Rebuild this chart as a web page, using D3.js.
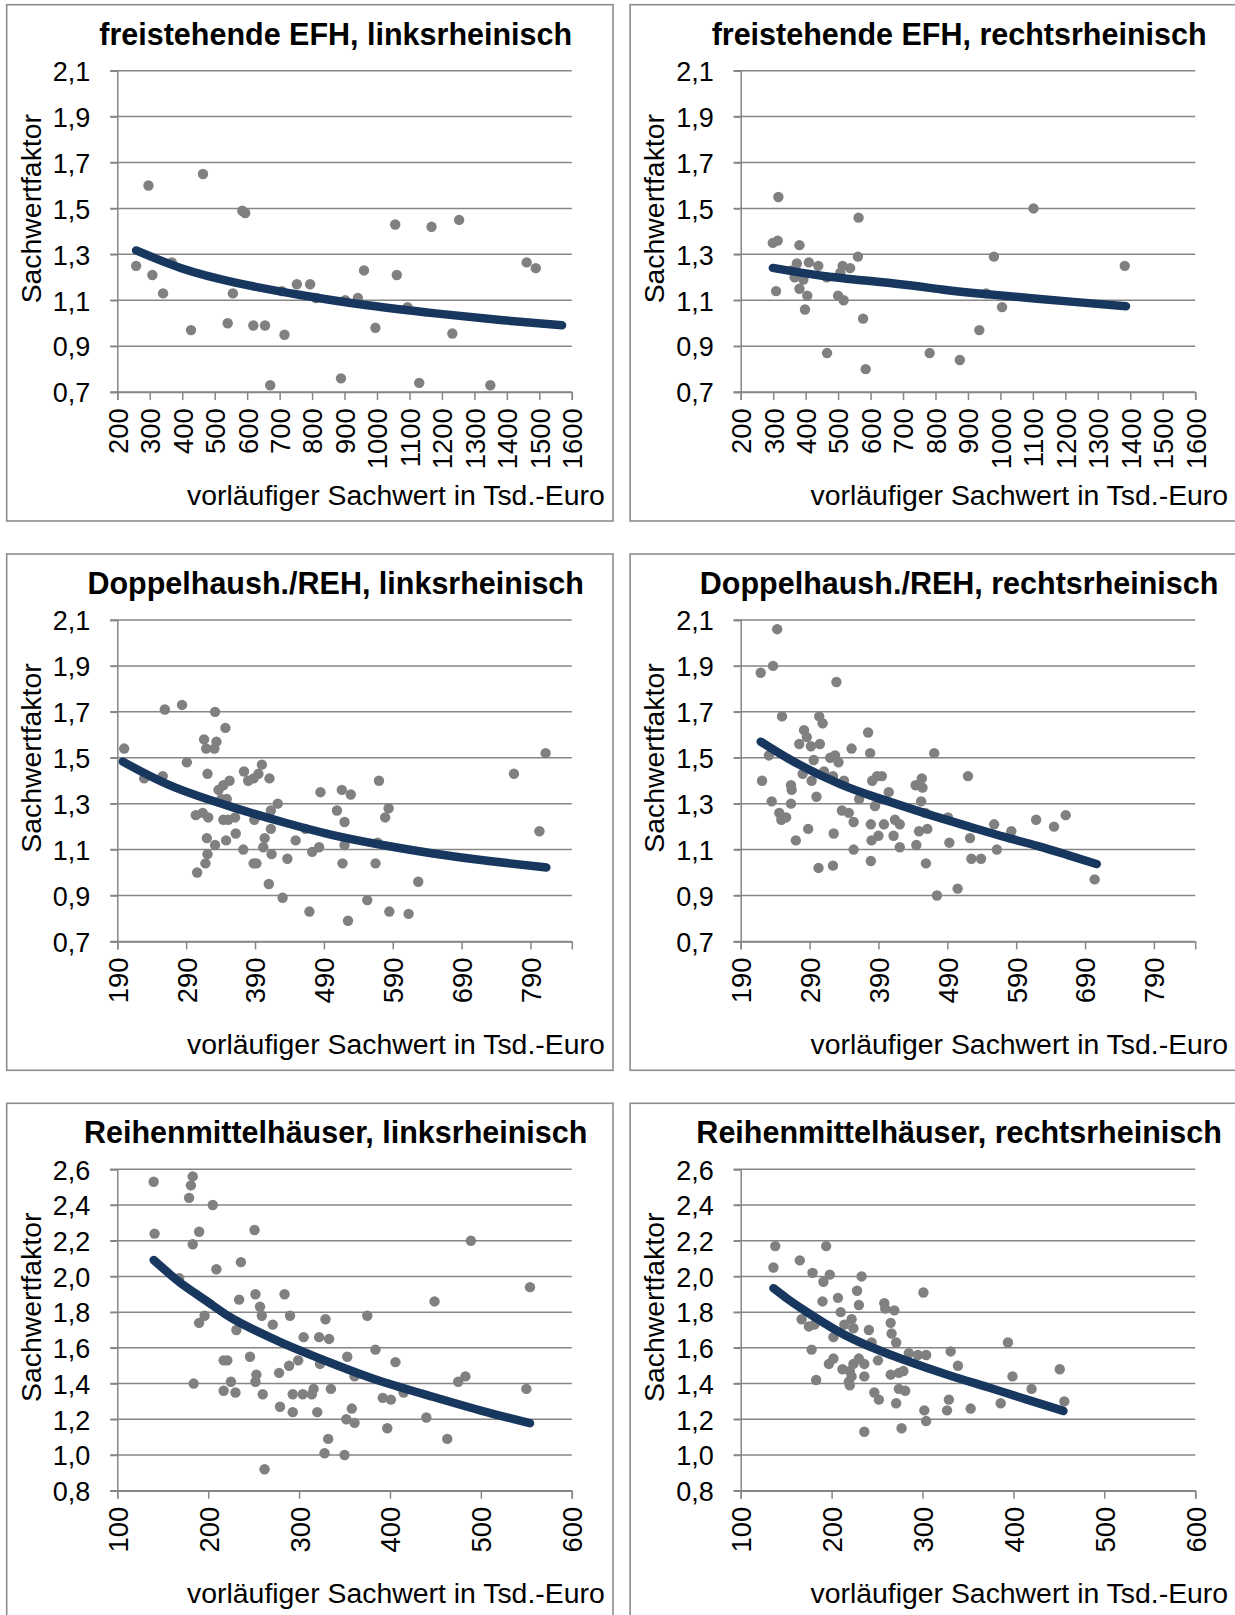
<!DOCTYPE html>
<html><head><meta charset="utf-8">
<script src="https://cdn.jsdelivr.net/npm/d3@7/dist/d3.min.js"></script>
<style>
body{margin:0;background:#fff}
svg{display:block}
text{font-family:"Liberation Sans",Arial,Helvetica,sans-serif;fill:#000}
</style></head>
<body><svg id="chart" width="1235" height="1615"></svg>
<script>
// ---------- data ----------
const titles = [
  "freistehende EFH, linksrheinisch", "freistehende EFH, rechtsrheinisch",
  "Doppelhaush./REH, linksrheinisch", "Doppelhaush./REH, rechtsrheinisch",
  "Reihenmittelhäuser, linksrheinisch", "Reihenmittelhäuser, rechtsrheinisch"
];
const yAxisTitle = "Sachwertfaktor";
const xAxisTitle = "vorläufiger Sachwert in Tsd.-Euro";

const xTicksEFH = [200,300,400,500,600,700,800,900,1000,1100,1200,1300,1400,1500,1600];
const xTicksDHH = [190,290,390,490,590,690,790];
const xTicksRMH = [100,200,300,400,500,600];
const yTicksA = [0.7,0.9,1.1,1.3,1.5,1.7,1.9,2.1];
const yTicksB = [0.8,1.0,1.2,1.4,1.6,1.8,2.0,2.2,2.4,2.6];

// freistehende EFH, linksrheinisch
const efhLinksX = [258,296,308,341,368,427,464,540,556,585,594,619,655,671,707,715,753,794,812,889,902,941,960,995,1056,1061,1094,1130,1168,1232,1253,1349,1461,1489];
const efhLinksY = [1.25,1.60,1.21,1.13,1.265,0.97,1.65,1.00,1.13,1.49,1.48,0.99,0.99,0.73,1.14,0.95,1.17,1.17,1.11,0.76,1.10,1.11,1.23,0.98,1.43,1.21,1.07,0.74,1.42,0.955,1.45,0.73,1.265,1.24];
const efhLinksTrendX = [258,400,560,760,970,1180,1380,1570];
const efhLinksTrendY = [1.317,1.238,1.178,1.124,1.078,1.043,1.014,0.991];

// freistehende EFH, rechtsrheinisch
const efhRechtsX = [299,314,316,309,373,381,366,381,393,405,398,410,439,465,466,500,514,517,507,537,561,563,577,585,782,875,935,956,980,1005,1102,1383,357];
const efhRechtsY = [1.35,1.36,1.55,1.14,1.26,1.34,1.20,1.15,1.19,1.12,1.06,1.265,1.25,1.20,0.87,1.12,1.25,1.10,1.22,1.24,1.29,1.46,1.02,0.80,0.87,0.84,0.97,1.13,1.29,1.07,1.50,1.25,1.23];
const efhRechtsTrendX = [299,460,660,820,969,1225,1387];
const efhRechtsTrendY = [1.241,1.205,1.175,1.147,1.125,1.093,1.074];

// Doppelhaush./REH, linksrheinisch
const dhhLinksX = [200,229,256,259,284,291,304,306,314,316,319,321,322,320,321,318,331,334,332,332,337,341,344,349,353,344,351,361,347,348,362,373,374,380,388,395,400,411,388,392,389,404,402,414,413,413,423,410,430,437,449,463,469,473,483,485,509,516,520,529,520,517,525,553,565,568,570,579,584,585,613,627,766,803,812];
const dhhLinksY = [1.54,1.41,1.42,1.71,1.73,1.48,1.25,1.00,1.26,1.58,1.54,1.43,1.24,1.15,1.08,1.04,1.54,1.57,1.70,1.12,1.36,1.32,1.38,1.32,1.40,1.23,1.23,1.24,1.63,1.14,1.17,1.10,1.44,1.40,1.41,1.43,1.47,1.41,1.04,1.04,1.23,1.15,1.11,1.08,1.19,1.27,1.30,0.95,0.89,1.06,1.14,1.19,0.83,1.09,1.11,1.35,1.27,1.36,1.22,1.34,1.12,1.04,0.79,0.88,1.04,1.13,1.40,1.24,1.28,0.83,0.82,0.96,1.43,1.18,1.52];
const dhhLinksTrendX = [198,270,358,430,503,575,649,730,813];
const dhhLinksTrendY = [1.483,1.375,1.284,1.220,1.163,1.120,1.083,1.050,1.022];

// Doppelhaush./REH, rechtsrheinisch
const dhhRechtsX = [219,237,243,250,329,231,221,235,246,249,256,263,264,263,270,275,282,280,286,292,293,288,296,300,304,305,309,303,311,320,327,332,324,325,324,337,340,347,351,354,354,362,375,378,381,388,395,385,379,380,379,390,398,405,412,414,421,421,445,444,453,454,452,458,449,461,459,471,475,491,493,505,520,523,525,539,558,562,583,619,645,662,704];
const dhhRechtsY = [1.87,1.90,2.06,1.68,1.83,1.51,1.40,1.31,1.26,1.23,1.24,1.38,1.36,1.30,1.14,1.56,1.62,1.43,1.59,1.55,1.40,1.19,1.49,1.33,1.68,1.56,1.65,1.02,1.44,1.50,1.51,1.48,1.42,1.17,1.03,1.27,1.40,1.26,1.54,1.22,1.10,1.32,1.61,1.52,1.40,1.42,1.42,1.29,1.21,1.14,1.05,1.16,1.21,1.35,1.16,1.23,1.21,1.11,1.12,1.38,1.41,1.37,1.31,1.26,1.18,1.19,1.04,1.52,0.90,1.24,1.13,0.93,1.42,1.15,1.06,1.06,1.21,1.10,1.18,1.23,1.20,1.25,0.97];
const dhhRechtsTrendX = [219,270,332,380,428,477,525,573,622,665,707];
const dhhRechtsTrendY = [1.570,1.478,1.388,1.334,1.287,1.240,1.197,1.155,1.115,1.076,1.037];

// Reihenmittelhäuser, linksrheinisch
const rmhLinksX = [140,141,183,181,179,205,190,183,251,236,209,168,196,190,184,231,234,252,257,259,271,284,290,305,322,333,329,375,384,406,217,221,246,253,252,225,217,230,260,278,289,299,279,293,293,304,314,316,320,323,335,353,361,358,352,361,332,328,350,392,401,397,415,440,449,463,475,483,489,554,550,262];
const rmhLinksY = [2.53,2.24,2.56,2.51,2.44,2.40,2.25,2.18,2.26,2.08,2.04,1.99,1.78,1.74,1.40,1.70,1.87,1.90,1.83,1.78,1.73,1.90,1.78,1.66,1.66,1.65,1.76,1.78,1.59,1.52,1.53,1.53,1.55,1.45,1.41,1.41,1.36,1.35,1.34,1.46,1.50,1.53,1.27,1.24,1.34,1.34,1.34,1.37,1.24,1.51,1.37,1.55,1.44,1.26,1.20,1.18,1.09,1.01,1.00,1.32,1.31,1.15,1.35,1.21,1.86,1.09,1.41,1.44,2.20,1.94,1.37,0.92];
const rmhLinksTrendX = [140,160,180,205,228,280,338,390,448,500,554];
const rmhLinksTrendY = [2.092,2.003,1.925,1.838,1.760,1.631,1.510,1.413,1.325,1.249,1.178];

// Reihenmittelhäuser, rechtsrheinisch
const rmhRechtsX = [138,136,165,194,179,191,198,233,228,230,207,190,210,167,175,181,214,222,224,202,178,202,197,183,212,220,224,230,236,222,219,220,236,241,251,244,236,247,252,258,259,269,265,266,271,265,274,279,285,295,304,301,271,274,281,277,302,304,327,329,331,339,353,386,394,399,420,451,456];
const rmhRechtsY = [2.17,2.05,2.09,2.17,2.02,1.97,2.01,2.00,1.92,1.84,1.88,1.86,1.80,1.76,1.72,1.73,1.73,1.76,1.71,1.66,1.59,1.54,1.51,1.42,1.48,1.47,1.51,1.54,1.51,1.44,1.41,1.39,1.44,1.70,1.53,1.63,1.13,1.35,1.31,1.85,1.82,1.81,1.74,1.68,1.63,1.45,1.46,1.47,1.57,1.56,1.56,1.91,1.29,1.37,1.36,1.15,1.25,1.19,1.25,1.31,1.58,1.50,1.26,1.29,1.63,1.44,1.37,1.48,1.30];
const rmhRechtsTrendX = [136,150,170,208,240,281,330,373,415,455];
const rmhRechtsTrendY = [1.934,1.880,1.810,1.690,1.612,1.530,1.445,1.378,1.310,1.247];

// ---------- panel table (built from the arrays above) ----------
const panels = [
  {title: titles[0], xs: efhLinksX,  ys: efhLinksY,  tx: efhLinksTrendX,  ty: efhLinksTrendY,  xDom:[200,1600], xTicks:xTicksEFH, yDom:[0.7,2.1], yTicks:yTicksA},
  {title: titles[1], xs: efhRechtsX, ys: efhRechtsY, tx: efhRechtsTrendX, ty: efhRechtsTrendY, xDom:[200,1600], xTicks:xTicksEFH, yDom:[0.7,2.1], yTicks:yTicksA},
  {title: titles[2], xs: dhhLinksX,  ys: dhhLinksY,  tx: dhhLinksTrendX,  ty: dhhLinksTrendY,  xDom:[190,850],  xTicks:xTicksDHH, yDom:[0.7,2.1], yTicks:yTicksA},
  {title: titles[3], xs: dhhRechtsX, ys: dhhRechtsY, tx: dhhRechtsTrendX, ty: dhhRechtsTrendY, xDom:[190,850],  xTicks:xTicksDHH, yDom:[0.7,2.1], yTicks:yTicksA},
  {title: titles[4], xs: rmhLinksX,  ys: rmhLinksY,  tx: rmhLinksTrendX,  ty: rmhLinksTrendY,  xDom:[100,600],  xTicks:xTicksRMH, yDom:[0.8,2.6], yTicks:yTicksB},
  {title: titles[5], xs: rmhRechtsX, ys: rmhRechtsY, tx: rmhRechtsTrendX, ty: rmhRechtsTrendY, xDom:[100,600],  xTicks:xTicksRMH, yDom:[0.8,2.6], yTicks:yTicksB}
];

// ---------- layout ----------
const colX = [6.7, 630.1];       // frame left
const rowY = [4.7, 554, 1103.3]; // frame top
const frameW = 606.3, frameH = 516.3;
const plotL = 110.6, plotT = 66, plotW = 454.5, plotH = 321.4;

const gridColor = "#868686", dotColor = "#808080", trendColor = "#17375e";
const yTickFont = 27, xTickFont = 27.5, axisTitleFont = 28.4, titleFont = 30.5;
const fmt = d => d3.format(".1f")(d).replace(".", ",");

const svg = d3.select("#chart");

panels.forEach((p, i) => {
  const col = i % 2, row = Math.floor(i / 2);
  const g = svg.append("g").attr("transform", `translate(${colX[col]},${rowY[row]})`);

  g.append("rect").attr("x", 0).attr("y", 0).attr("width", frameW).attr("height", frameH)
    .attr("fill", "none").attr("stroke", "#8c8c8c").attr("stroke-width", 1.6);

  g.append("text").attr("x", 329).attr("y", 40).attr("text-anchor", "middle")
    .style("font-size", titleFont + "px").style("font-weight", "bold").text(p.title);

  const x = d3.scaleLinear().domain(p.xDom).range([0, plotW]);
  const y = d3.scaleLinear().domain(p.yDom).range([plotH, 0]);
  const pg = g.append("g").attr("transform", `translate(${plotL},${plotT})`);

  // gridlines
  pg.append("g").selectAll("line").data(p.yTicks).join("line")
    .attr("x1", -7).attr("x2", plotW).attr("y1", d => y(d)).attr("y2", d => y(d))
    .attr("stroke", gridColor).attr("stroke-width", 1.5);

  // y axis
  const ya = pg.append("g").call(d3.axisLeft(y).tickValues(p.yTicks).tickSize(7).tickFormat(fmt));
  ya.select(".domain").attr("stroke", gridColor).attr("stroke-width", 1.5);
  ya.selectAll(".tick line").attr("stroke", gridColor).attr("stroke-width", 1.5);
  ya.selectAll(".tick text").attr("x", -27).attr("dy", "0.36em")
    .style("font-size", yTickFont + "px").style("font-family", "'Liberation Sans',Arial,sans-serif").attr("fill", "#000");

  // x axis
  const xa = pg.append("g").attr("transform", `translate(0,${plotH})`)
    .call(d3.axisBottom(x).tickValues(p.xTicks).tickSize(8).tickFormat(d3.format("d")));
  xa.select(".domain").attr("stroke", gridColor).attr("stroke-width", 1.5);
  xa.selectAll(".tick line").attr("stroke", gridColor).attr("stroke-width", 1.5);
  xa.selectAll(".tick text").attr("transform", "rotate(-90)").attr("x", -16).attr("y", 0)
    .attr("dy", "0.36em").style("text-anchor", "end")
    .style("font-size", xTickFont + "px").style("font-family", "'Liberation Sans',Arial,sans-serif").attr("fill", "#000");

  // points
  pg.append("g").selectAll("circle").data(p.xs.map((v, k) => [v, p.ys[k]])).join("circle")
    .attr("cx", d => x(d[0])).attr("cy", d => y(d[1])).attr("r", 5.2).attr("fill", dotColor);

  // trend line
  const line = d3.line().x(d => x(d[0])).y(d => y(d[1])).curve(d3.curveNatural);
  pg.append("path").datum(p.tx.map((v, k) => [v, p.ty[k]])).attr("d", line)
    .attr("fill", "none").attr("stroke", trendColor).attr("stroke-width", 8.5).attr("stroke-linecap", "round");

  // axis titles
  g.append("text").attr("transform", `translate(24,${204})rotate(-90)`).attr("text-anchor", "middle")
    .attr("dy", "0.35em").style("font-size", axisTitleFont + "px").text(yAxisTitle);
  g.append("text").attr("x", 598).attr("y", 500).attr("text-anchor", "end")
    .style("font-size", axisTitleFont + "px").text(xAxisTitle);
});
</script></body></html>
